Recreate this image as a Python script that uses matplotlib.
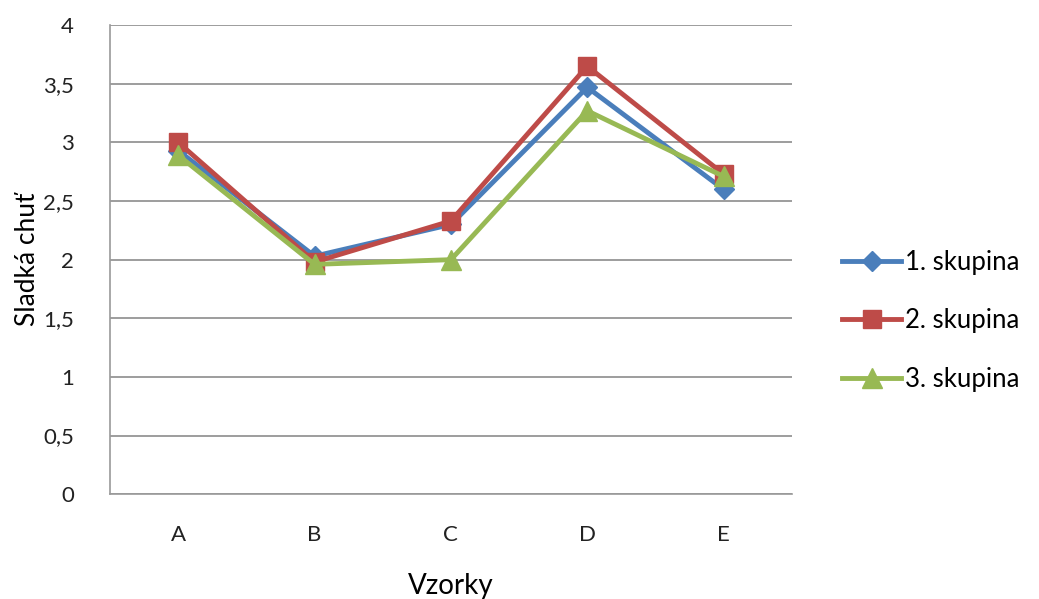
import matplotlib.pyplot as plt
from matplotlib.ticker import FuncFormatter

plt.rcParams['font.family'] = ['Lato', 'DejaVu Sans']

vzorky = ['A', 'B', 'C', 'D', 'E']
skupina1 = [2.93, 2.03, 2.30, 3.47, 2.60]
skupina2 = [3.00, 1.98, 2.33, 3.65, 2.73]
skupina3 = [2.89, 1.96, 2.00, 3.27, 2.71]

fig = plt.figure(figsize=(10.39, 5.99), dpi=100)
ax = fig.add_axes([0.106, 0.175, 0.656, 0.783])

x = range(len(vzorky))
ax.plot(x, skupina1, color='#4a7ebb', lw=3.5, marker='D', ms=10, label='1. skupina', zorder=3)
ax.plot(x, skupina2, color='#be4b48', lw=3.5, marker='s', ms=13, label='2. skupina', zorder=4)
ax.plot(x, skupina3, color='#98b954', lw=3.5, marker='^', ms=14, label='3. skupina', zorder=5)

ax.set_xlim(-0.5, 4.5)
ax.set_ylim(0, 4)
ax.set_yticks([0, 0.5, 1, 1.5, 2, 2.5, 3, 3.5, 4])
ax.yaxis.set_major_formatter(FuncFormatter(lambda v, p: f'{v:g}'.replace('.', ',')))
ax.set_xticks(list(x))
ax.set_xticklabels(vzorky)
ax.tick_params(length=0, labelsize=16, colors='#222222')
ax.tick_params(axis='x', pad=22)
ax.tick_params(axis='y', pad=26)

ax.grid(axis='y', color='#8c8c8c', lw=1.2)
ax.set_axisbelow(True)
for s in ['top', 'right']:
    ax.spines[s].set_visible(False)
for s in ['left', 'bottom']:
    ax.spines[s].set_color('#9a9a9a')
    ax.spines[s].set_linewidth(1.2)

ax.set_xlabel('Vzorky', fontsize=20, labelpad=20)
ax.set_ylabel('Sladká chuť', fontsize=19, labelpad=2)

ax.legend(loc='center left', bbox_to_anchor=(1.04, 0.37), frameon=False,
          fontsize=18.5, handlelength=2.3, handletextpad=0.15, labelspacing=1.3)

fig.savefig('out.png')
